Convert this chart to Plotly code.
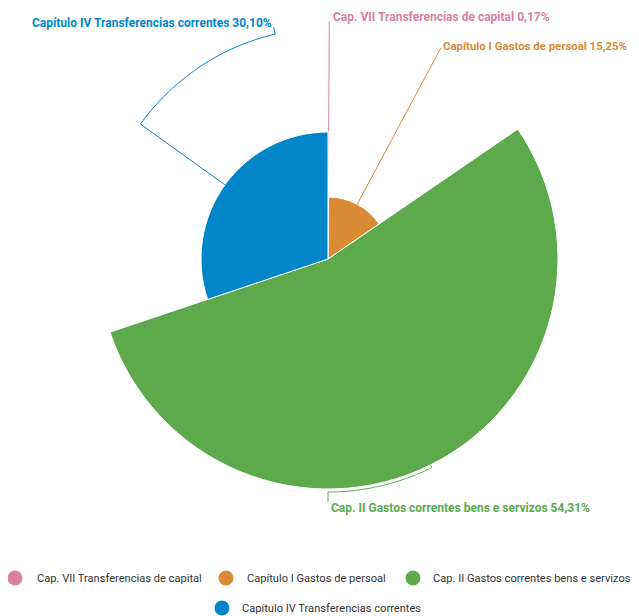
import numpy as np
import plotly.graph_objects as go

# Data
labels = ['Cap. VII Transferencias de capital',
          'Capítulo I Gastos de persoal',
          'Cap. II Gastos correntes bens e servizos',
          'Capítulo IV Transferencias correntes']
percent = [0.17, 15.25, 54.31, 30.10]
size_z = [128, 62, 230, 127]  # relative radius of each slice (variable pie)
colors = ['#D9809F', '#D98B36', '#5CAA4C', '#0086C9']

OFF = 8                # page body margin: figure sits 8px from the window corner
W, H = 639 - 2 * OFF, 616 - OFF
CX, CY = 328, 259      # pie centre in window pixels
R_PX = 250             # polar radius in pixels (radial units == pixels)

# angular layout of the slices
total = sum(percent)
widths = [p / total * 360 for p in percent]
starts = np.cumsum([0] + widths[:-1])
mids = [s + w / 2 for s, w in zip(starts, widths)]

# label placement: (label angle, arc radius, end radius, dx, dy, anchor, font size)
label_cfg = [
    (0.3, 238, 238, 2, -4, 'left', 12),
    (28.2, 239, 239, 0, -2, 'left', 11.4),
    (180.0, 233, 243, 1, 6, 'left', 12),
    (346.8, 231, 238, 0, -4, 'right', 12),
]

# legend layout: (circle x, text x, row y) in window pixels
legend_pos = [(15, 35, 578), (226, 245, 578), (413, 431, 578), (222, 240, 608)]


def px_x(x):
    return (x - OFF) / W


def px_y(y):
    return 1 - (y - OFF) / H


def to_px(r, th):
    a = np.radians(th)
    return CX + r * np.sin(a), CY - r * np.cos(a)


fig = go.Figure()

fig.add_trace(go.Barpolar(
    r=size_z,
    theta=mids,
    width=widths,
    marker=dict(color=colors, line=dict(color='#FFFFFF', width=1)),
    showlegend=False,
    hoverinfo='skip',
))

annotations = []
shapes = []
for i, (lab, pct, col) in enumerate(zip(labels, percent, colors)):
    th_lab, r_arc, r_end, dx, dy, anchor, fsize = label_cfg[i]
    edge = size_z[i]
    # connector: radial out, arc to label angle, radial out to the label
    arc_th = np.linspace(mids[i], th_lab, 40)
    rr = [edge] + [r_arc] * len(arc_th) + [r_end]
    tt = [mids[i]] + list(arc_th) + [th_lab]
    fig.add_trace(go.Scatterpolar(
        r=rr, theta=tt, mode='lines',
        line=dict(color=col, width=1),
        showlegend=False, hoverinfo='skip',
    ))
    ex, ey = to_px(r_end, th_lab)
    txt = f"{lab} " + f"{pct:.2f}".replace('.', ',') + '%'
    annotations.append(dict(
        x=px_x(ex + dx), y=px_y(ey + dy),
        xref='paper', yref='paper',
        text=f'<b>{txt}</b>', showarrow=False,
        xanchor=anchor, yanchor='middle',
        font=dict(family='Roboto', size=fsize, color=col),
    ))

    # legend entry: circle + text
    cx, tx, ly = legend_pos[i]
    shapes.append(dict(
        type='circle', xref='paper', yref='paper',
        x0=px_x(cx - 7.5), x1=px_x(cx + 7.5),
        y0=px_y(ly + 7.5), y1=px_y(ly - 7.5),
        fillcolor=col, line=dict(width=0),
    ))
    annotations.append(dict(
        x=px_x(tx), y=px_y(ly), xref='paper', yref='paper',
        text=lab, showarrow=False, xanchor='left', yanchor='middle',
        font=dict(family='Roboto', size=11.1, color='#333333'),
    ))

fig.update_layout(
    width=W, height=H,
    margin=dict(l=0, r=0, t=0, b=0, autoexpand=False),
    paper_bgcolor='#FFFFFF',
    font=dict(family='Roboto', color='#333333'),
    showlegend=False,
    polar=dict(
        domain=dict(x=[px_x(CX - R_PX), px_x(CX + R_PX)],
                    y=[px_y(CY + R_PX), px_y(CY - R_PX)]),
        bgcolor='rgba(0,0,0,0)',
        radialaxis=dict(visible=False, range=[0, R_PX]),
        angularaxis=dict(visible=False, rotation=90, direction='clockwise'),
    ),
    annotations=annotations,
    shapes=shapes,
)

fig.write_html('out.html')
